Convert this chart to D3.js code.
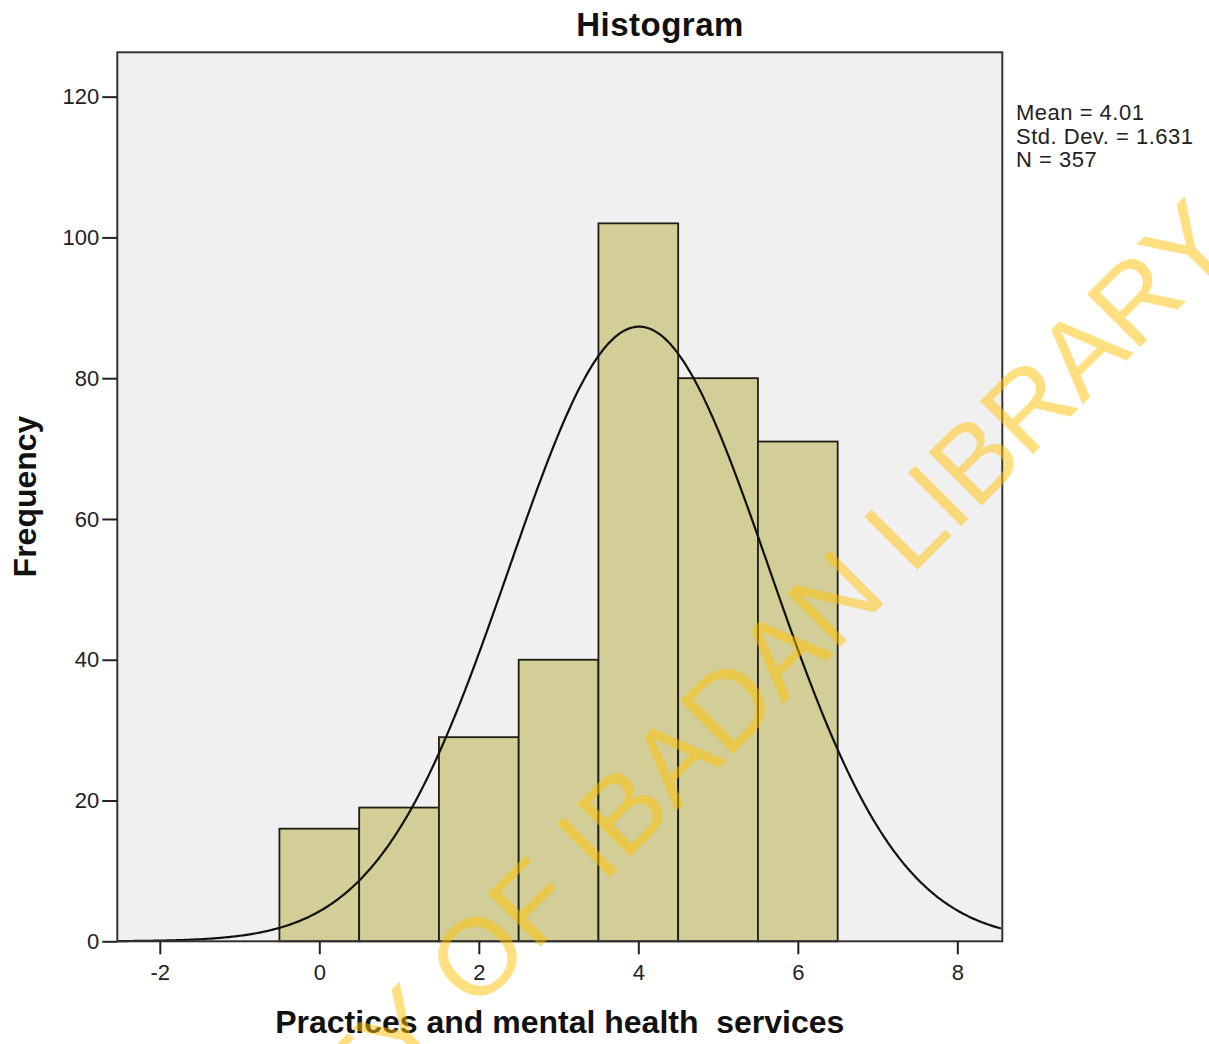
<!DOCTYPE html>
<html>
<head>
<meta charset="utf-8">
<script src="https://cdn.jsdelivr.net/npm/d3@7"></script>
<style>
  html, body { margin: 0; padding: 0; background: #fff; }
  svg { display: block; }
  text { font-family: "Liberation Sans", Arial, sans-serif; }
</style>
</head>
<body>
<svg id="chart" width="1209" height="1044"></svg>
<script>
// ---- Data ----
const binCenters = [0, 1, 2, 3, 4, 5, 6];
const frequencies = [16, 19, 29, 40, 102, 80, 71];
const xTickValues = [-2, 0, 2, 4, 6, 8];
const yTickValues = [0, 20, 40, 60, 80, 100, 120];
const statLabels = ["Mean = 4.01", "Std. Dev. = 1.631", "N = 357"];
const statMean = 4.01;
const statSD = 1.631;
const statN = 357;
const binWidth = 1;
const chartTitle = "Histogram";
const xAxisTitle = "Practices and mental health  services";
const yAxisTitle = "Frequency";
const watermarkText = "UNIVERSITY OF IBADAN LIBRARY";

// ---- Layout ----
const svg = d3.select("#chart");
const plot = { left: 117.3, right: 1002.3, top: 52.3, bottom: 941.3 };

const x = d3.scaleLinear().domain([-2.533, 8.564]).range([plot.left, plot.right]);
const y = d3.scaleLinear().domain([0, 126.3]).range([plot.bottom, plot.top]);

// plot background
svg.append("rect")
  .attr("x", plot.left).attr("y", plot.top)
  .attr("width", plot.right - plot.left).attr("height", plot.bottom - plot.top)
  .attr("fill", "#f0f0f0");

// bars
svg.append("g").selectAll("rect")
  .data(binCenters.map((c, i) => ({ c, v: frequencies[i] })))
  .join("rect")
  .attr("x", d => x(d.c - binWidth / 2))
  .attr("y", d => y(d.v))
  .attr("width", d => x(d.c + binWidth / 2) - x(d.c - binWidth / 2))
  .attr("height", d => y(0) - y(d.v))
  .attr("fill", "#d3ce97")
  .attr("stroke", "#1e1e14")
  .attr("stroke-width", 1.8);

// normal curve from reported stats
const curveX = d3.range(-2.533, 8.5641, 0.02);
const pdf = v => statN * binWidth * Math.exp(-0.5 * Math.pow((v - statMean) / statSD, 2)) / (statSD * Math.sqrt(2 * Math.PI));
svg.append("path")
  .datum(curveX)
  .attr("fill", "none")
  .attr("stroke", "#111")
  .attr("stroke-width", 2.2)
  .attr("d", d3.line().x(d => x(d)).y(d => y(pdf(d))));

// frame
svg.append("rect")
  .attr("x", plot.left).attr("y", plot.top)
  .attr("width", plot.right - plot.left).attr("height", plot.bottom - plot.top)
  .attr("fill", "none")
  .attr("stroke", "#333")
  .attr("stroke-width", 2);

// axes
const gx = svg.append("g")
  .attr("transform", `translate(0,${plot.bottom})`)
  .call(d3.axisBottom(x).tickValues(xTickValues).tickFormat(d => String(d)).tickSizeOuter(0).tickSize(13).tickPadding(10));
const gy = svg.append("g")
  .attr("transform", `translate(${plot.left},0)`)
  .call(d3.axisLeft(y).tickValues(yTickValues).tickFormat(d => String(d)).tickSizeOuter(0).tickSize(15).tickPadding(3));
[gx, gy].forEach(g => {
  g.select(".domain").remove();
  g.selectAll(".tick line").attr("stroke", "#222").attr("stroke-width", 2);
  g.selectAll(".tick text").attr("fill", "#222").style("font-size", "22px")
    .style("font-family", "'Liberation Sans', Arial, sans-serif");
});

// title
svg.append("text")
  .attr("x", 660).attr("y", 36)
  .attr("text-anchor", "middle")
  .style("font-size", "33px").style("font-weight", "bold")
  .style("letter-spacing", "0.5px")
  .attr("fill", "#111")
  .text(chartTitle);

// x axis title
svg.append("text")
  .attr("x", (plot.left + plot.right) / 2).attr("y", 1033)
  .attr("text-anchor", "middle")
  .style("font-size", "32px").style("font-weight", "bold")
  .style("white-space", "pre")
  .attr("xml:space", "preserve")
  .attr("fill", "#111")
  .text(xAxisTitle);

// y axis title
svg.append("text")
  .attr("transform", "translate(36,496.5) rotate(-90)")
  .attr("text-anchor", "middle")
  .style("font-size", "32px").style("font-weight", "bold")
  .attr("fill", "#111")
  .text(yAxisTitle);

// stats legend
svg.append("g").selectAll("text")
  .data(statLabels)
  .join("text")
  .attr("x", 1016)
  .attr("y", (d, i) => 120 + i * 23.5)
  .style("font-size", "22px")
  .style("letter-spacing", "0.5px")
  .attr("fill", "#222")
  .text(d => d);

// watermark
const wm = svg.append("text")
  .style("font-size", "109px")
  .attr("fill", "#ffc000")
  .attr("fill-opacity", 0.5)
  .text(watermarkText);
const node = wm.node();
const iO = watermarkText.indexOf("OF");
const iY = watermarkText.length - 1;
const sO = node.getSubStringLength(0, iO) + node.getSubStringLength(iO, 1) / 2;
const sY = node.getSubStringLength(0, iY) + node.getSubStringLength(iY, 1) / 2;
wm.attr("x", -(sO + sY) / 2).attr("y", 0)
  .attr("transform", "translate(859,628) rotate(-45)");
</script>
</body>
</html>
